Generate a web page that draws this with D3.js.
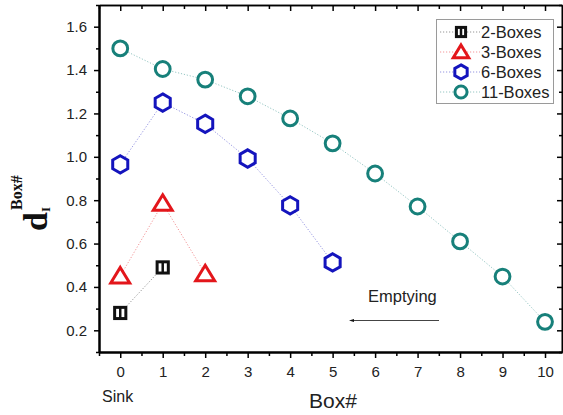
<!DOCTYPE html>
<html>
<head>
<meta charset="utf-8">
<script src="https://cdn.jsdelivr.net/npm/d3@7"></script>
<style>
  html, body { margin: 0; padding: 0; background: #fff; }
  svg { display: block; font-family: "Liberation Sans", Arial, sans-serif; }
</style>
</head>
<body>
<svg id="chart" width="563" height="415"></svg>
<script>
// Box index along the chain (0 = sink)
const boxIndex = [0, 1, 2, 3, 4, 5, 6, 7, 8, 9, 10];

// d_I^{Box#} for each configuration
const twoBoxes    = [0.28, 0.49];
const threeBoxes  = [0.45, 0.785, 0.46];
const sixBoxes    = [0.965, 1.25, 1.152, 0.992, 0.776, 0.513];
const elevenBoxes = [1.50, 1.405, 1.356, 1.279, 1.177, 1.062, 0.923, 0.771, 0.610, 0.448, 0.239];

const seriesNames = ["2-Boxes", "3-Boxes", "6-Boxes", "11-Boxes"];
const yMajorTicks = [0.2, 0.4, 0.6, 0.8, 1.0, 1.2, 1.4, 1.6];
const yMinorTicks = [0.1, 0.3, 0.5, 0.7, 0.9, 1.1, 1.3, 1.5, 1.7];
const xMajorTicks = boxIndex;
const xMinorTicks = [-0.5, 0.5, 1.5, 2.5, 3.5, 4.5, 5.5, 6.5, 7.5, 8.5, 9.5];

const series = [
  { name: seriesNames[0], values: twoBoxes,    color: "#111111", shape: "square" },
  { name: seriesNames[1], values: threeBoxes,  color: "#e3161b", shape: "triangle" },
  { name: seriesNames[2], values: sixBoxes,    color: "#1414bd", shape: "hexagon" },
  { name: seriesNames[3], values: elevenBoxes, color: "#17807a", shape: "circle" }
];

const svg = d3.select("#chart");
const plotLeft = 99, plotRight = 562, plotTop = 5, plotBottom = 352;

const x = d3.scaleLinear().domain([-0.5, 10.4]).range([plotLeft, plotRight]);
const y = d3.scaleLinear().domain([0.1, 1.7]).range([plotBottom, plotTop]);

// ---- axes ----
function styleAxis(g, width) {
  g.selectAll("path.domain").attr("stroke", "#000").attr("stroke-width", width);
  g.selectAll(".tick line").attr("stroke", "#000").attr("stroke-width", 1.5);
  g.selectAll(".tick text").attr("fill", "#222").attr("font-size", 15)
    .attr("font-family", "'Liberation Sans', Arial, sans-serif");
}

// bottom
const gxB = svg.append("g").attr("transform", `translate(0,${plotBottom})`)
  .call(d3.axisBottom(x).tickValues(xMajorTicks).tickFormat(d3.format("d")).tickSize(6).tickPadding(8).tickSizeOuter(0));
styleAxis(gxB, 2);
const gxBm = svg.append("g").attr("transform", `translate(0,${plotBottom})`)
  .call(d3.axisBottom(x).tickValues(xMinorTicks).tickFormat("").tickSize(4).tickSizeOuter(0));
styleAxis(gxBm, 2);

// top (ticks point inward)
const gxT = svg.append("g").attr("transform", `translate(0,${plotTop})`)
  .call(d3.axisTop(x).tickValues(xMajorTicks).tickFormat("").tickSize(-6).tickSizeOuter(0));
styleAxis(gxT, 1.6);
const gxTm = svg.append("g").attr("transform", `translate(0,${plotTop})`)
  .call(d3.axisTop(x).tickValues(xMinorTicks).tickFormat("").tickSize(-4).tickSizeOuter(0));
styleAxis(gxTm, 1.6);

// left
const gyL = svg.append("g").attr("transform", `translate(${plotLeft},0)`)
  .call(d3.axisLeft(y).tickValues(yMajorTicks).tickFormat(d3.format(".1f")).tickSize(5).tickPadding(7).tickSizeOuter(0));
styleAxis(gyL, 2);
const gyLm = svg.append("g").attr("transform", `translate(${plotLeft},0)`)
  .call(d3.axisLeft(y).tickValues(yMinorTicks).tickFormat("").tickSize(3).tickSizeOuter(0));
styleAxis(gyLm, 2);

// right (ticks point inward)
const gyR = svg.append("g").attr("transform", `translate(${plotRight},0)`)
  .call(d3.axisRight(y).tickValues(yMajorTicks).tickFormat("").tickSize(-5).tickSizeOuter(0));
styleAxis(gyR, 1.6);
const gyRm = svg.append("g").attr("transform", `translate(${plotRight},0)`)
  .call(d3.axisRight(y).tickValues(yMinorTicks).tickFormat("").tickSize(-3).tickSizeOuter(0));
styleAxis(gyRm, 1.6);

// ---- markers ----
function drawMarker(g, shape, color, cx, cy, s) {
  if (shape === "circle") {
    g.append("circle").attr("cx", cx).attr("cy", cy).attr("r", 7.4 * s)
      .attr("fill", "#fff").attr("stroke", color).attr("stroke-width", 3);
  } else if (shape === "hexagon") {
    const r = 8.7 * s;
    const pts = d3.range(6).map(i => {
      const a = Math.PI / 3 * i - Math.PI / 2;
      return [cx + r * Math.cos(a), cy + r * Math.sin(a)];
    });
    g.append("polygon").attr("points", pts.map(p => p.join(",")).join(" "))
      .attr("fill", "#fff").attr("stroke", color).attr("stroke-width", 3);
  } else if (shape === "triangle") {
    const h = 8.6 * s;
    const pts = [[cx, cy - h], [cx + h * 1.1, cy + h * 0.8], [cx - h * 1.1, cy + h * 0.8]];
    g.append("polygon").attr("points", pts.map(p => p.join(",")).join(" "))
      .attr("fill", "#fff").attr("stroke", color).attr("stroke-width", 3);
  } else if (shape === "square") {
    const h = 5.6 * s;
    g.append("rect").attr("x", cx - h).attr("y", cy - h).attr("width", 2 * h).attr("height", 2 * h)
      .attr("fill", "#fff").attr("stroke", color).attr("stroke-width", 3);
    g.append("line").attr("x1", cx).attr("x2", cx).attr("y1", cy - h).attr("y2", cy + h)
      .attr("stroke", color).attr("stroke-width", 2.5);
  }
}

const line = d3.line().x((d, i) => x(boxIndex[i])).y(d => y(d));

series.forEach(s => {
  svg.append("path").datum(s.values)
    .attr("d", line)
    .attr("fill", "none")
    .attr("stroke", s.color)
    .attr("stroke-opacity", 0.45)
    .attr("stroke-width", 1)
    .attr("stroke-dasharray", "1.2,1.8");
});
series.forEach(s => {
  const g = svg.append("g");
  s.values.forEach((v, i) => drawMarker(g, s.shape, s.color, x(boxIndex[i]), y(v), 1));
});

// ---- legend ----
const legend = svg.append("g");
legend.append("rect").attr("x", 436.5).attr("y", 19.5).attr("width", 117).attr("height", 84)
  .attr("fill", "#fff").attr("stroke", "#9a9a9a").attr("stroke-width", 1);
series.forEach((s, i) => {
  const ly = 32 + i * 20;
  legend.append("line").attr("x1", 440).attr("x2", 480).attr("y1", ly).attr("y2", ly)
    .attr("stroke", s.color).attr("stroke-opacity", 0.45).attr("stroke-width", 1)
    .attr("stroke-dasharray", "1.2,1.8");
  drawMarker(legend, s.shape, s.color, 461, ly, 0.82);
  legend.append("text").attr("x", 481).attr("y", ly + 6).attr("font-size", 16.5)
    .attr("fill", "#222").text(s.name);
});

// ---- annotations ----
svg.append("text").attr("x", 368).attr("y", 302).attr("font-size", 16.5).attr("fill", "#222").text("Emptying");
svg.append("defs").append("marker").attr("id", "arrowhead")
  .attr("viewBox", "0 0 10 10").attr("refX", 0).attr("refY", 5)
  .attr("markerWidth", 8).attr("markerHeight", 5).attr("orient", "auto-start-reverse")
  .append("path").attr("d", "M0,2 L10,5 L0,8 Z").attr("fill", "#111");
svg.append("line").attr("x1", 439).attr("x2", 354).attr("y1", 320.5).attr("y2", 320.5)
  .attr("stroke", "#444").attr("stroke-width", 1).attr("marker-end", "url(#arrowhead)");

svg.append("text").attr("x", 102).attr("y", 402).attr("font-size", 16).attr("fill", "#222").text("Sink");
svg.append("text").attr("x", 333).attr("y", 408).attr("text-anchor", "middle")
  .attr("font-size", 21).attr("fill", "#222").text("Box#");

// y axis title: d with subscript I and superscript Box#
const yt = svg.append("g").attr("transform", "translate(47,231) rotate(-90)")
  .attr("font-family", "'Liberation Serif', 'Times New Roman', serif").attr("font-weight", "bold").attr("fill", "#111");
yt.append("text").attr("x", 0).attr("y", 0).attr("font-size", 34).text("d");
yt.append("text").attr("x", 21).attr("y", -25).attr("font-size", 16).text("Box#");
yt.append("text").attr("x", 19).attr("y", 3).attr("font-size", 13).text("I");
</script>
</body>
</html>
